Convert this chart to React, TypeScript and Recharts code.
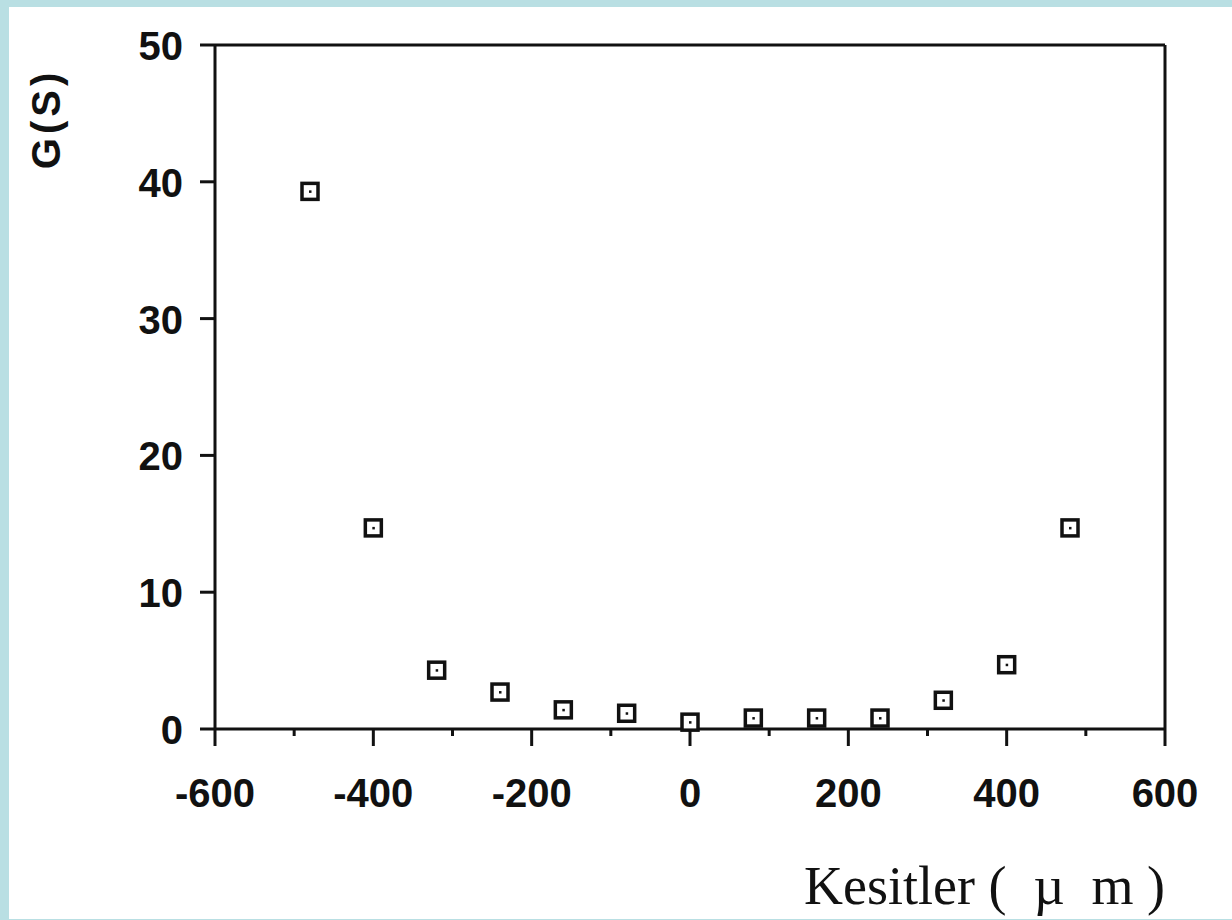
import { ScatterChart, Scatter, XAxis, YAxis, ReferenceLine } from "recharts";

// section positions (µm) and measured G(S)
const POSITIONS = [-480, -400, -320, -240, -160, -80, 0, 80, 160, 240, 320, 400, 480];
const G_VALUES = [39.3, 14.7, 4.3, 2.7, 1.4, 1.15, 0.5, 0.8, 0.8, 0.8, 2.1, 4.7, 14.7];

const X_TICKS = [-600, -500, -400, -300, -200, -100, 0, 100, 200, 300, 400, 500, 600];
const Y_TICKS = [0, 10, 20, 30, 40, 50];

const FRAME = "#b9dfe3";
const INK = "#111";
const TICK_FONT = "'Liberation Sans', Arial, sans-serif";

const data = POSITIONS.map((x, i) => ({ x, g: G_VALUES[i] }));

function XTick(props: any) {
  const { x, y, payload } = props;
  const major = payload.value % 200 === 0;
  return (
    <g>
      <line x1={x} y1={y} x2={x} y2={y + (major ? 17 : 7)} stroke={INK} strokeWidth={3} />
      {major && (
        <text
          x={x}
          y={y + 78}
          textAnchor="middle"
          fontFamily={TICK_FONT}
          fontWeight="bold"
          fontSize={40}
          fill={INK}
        >
          {payload.value}
        </text>
      )}
    </g>
  );
}

function YTick(props: any) {
  const { x, y, payload } = props;
  return (
    <g>
      <line x1={x - 15} y1={y} x2={x} y2={y} stroke={INK} strokeWidth={3} />
      <text
        x={x - 32}
        y={y + 15}
        textAnchor="end"
        fontFamily={TICK_FONT}
        fontWeight="bold"
        fontSize={40}
        fill={INK}
      >
        {payload.value}
      </text>
    </g>
  );
}

function SquareMark(props: any) {
  const { cx, cy } = props;
  return (
    <g>
      <rect x={cx - 8} y={cy - 8} width={16} height={16} fill="#fff" stroke={INK} strokeWidth={3.5} />
      <rect x={cx - 1} y={cy - 1} width={2.5} height={2.5} fill={INK} />
    </g>
  );
}

export default function App() {
  return (
    <div style={{ position: "relative", width: 1232, height: 920, background: FRAME }}>
      <style>{"body{margin:0}"}</style>
      <div
        style={{
          position: "absolute",
          left: 9,
          top: 7,
          width: 1223,
          height: 912,
          background: "#fff",
        }}
      >
        <ScatterChart
          width={1223}
          height={912}
          margin={{ top: 38, right: 67, left: 0, bottom: 90 }}
        >
          <XAxis
            type="number"
            dataKey="x"
            domain={[-600, 600]}
            ticks={X_TICKS}
            interval={0}
            height={100}
            tickSize={0}
            tickMargin={0}
            tickLine={false}
            axisLine={{ stroke: INK, strokeWidth: 3 }}
            tick={<XTick />}
            label={{
              content: ({ viewBox }: any) => (
                <text
                  x={viewBox.x + viewBox.width}
                  y={viewBox.y + 175}
                  textAnchor="end"
                  fontFamily="'Liberation Serif', 'Times New Roman', serif"
                  fontSize={54}
                  fill={INK}
                >
                  {"Kesitler (\u00A0\u00A0µ\u00A0\u00A0m\u00A0)"}
                </text>
              ),
            }}
          />
          <YAxis
            type="number"
            dataKey="g"
            domain={[0, 50]}
            ticks={Y_TICKS}
            interval={0}
            width={206}
            tickSize={0}
            tickMargin={0}
            tickLine={false}
            axisLine={{ stroke: INK, strokeWidth: 3 }}
            tick={<YTick />}
            label={{
              content: ({ viewBox }: any) => (
                <text
                  x={37}
                  y={viewBox.y + 74}
                  transform={`rotate(-90 37 ${viewBox.y + 74})`}
                  textAnchor="middle"
                  dominantBaseline="central"
                  fontFamily={TICK_FONT}
                  fontWeight="bold"
                  fontSize={40}
                  letterSpacing={4}
                  fill={INK}
                >
                  G(S)
                </text>
              ),
            }}
          />
          <ReferenceLine y={50} stroke={INK} strokeWidth={3} />
          <ReferenceLine x={600} stroke={INK} strokeWidth={3} />
          <Scatter data={data} shape={<SquareMark />} isAnimationActive={false} />
        </ScatterChart>
      </div>
    </div>
  );
}
